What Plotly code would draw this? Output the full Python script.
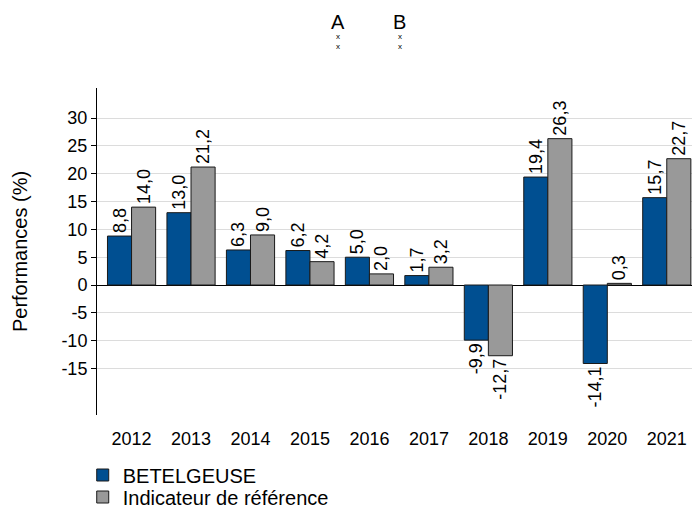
import plotly.graph_objects as go

years = ["2012", "2013", "2014", "2015", "2016", "2017", "2018", "2019", "2020", "2021"]
betelgeuse = [8.8, 13.0, 6.3, 6.2, 5.0, 1.7, -9.9, 19.4, -14.1, 15.7]
reference = [14.0, 21.2, 9.0, 4.2, 2.0, 3.2, -12.7, 26.3, 0.3, 22.7]
ytick_vals = [-15, -10, -5, 0, 5, 10, 15, 20, 25, 30]

def fmt(v):
    return f"{v:.1f}".replace(".", ",")

font_family = "Liberation Sans, Arial, sans-serif"

fig = go.Figure()
fig.add_trace(go.Bar(
    x=years, y=betelgeuse, name="BETELGEUSE", legend="legend",
    marker=dict(color="#004f91", line=dict(color="#1a1a1a", width=1)),
    text=[fmt(v) for v in betelgeuse], textposition="outside", textangle=-90,
    textfont=dict(size=18, color="black"), cliponaxis=False, constraintext="none",
))
fig.add_trace(go.Bar(
    x=years, y=reference, name="Indicateur de référence", legend="legend2",
    marker=dict(color="#999999", line=dict(color="#1a1a1a", width=1)),
    text=[fmt(v) for v in reference], textposition="outside", textangle=-90,
    textfont=dict(size=18, color="black"), cliponaxis=False, constraintext="none",
))

legend_common = dict(xanchor="left", yanchor="middle", font=dict(size=20),
                     orientation="v", bgcolor="rgba(0,0,0,0)", itemwidth=30)
fig.update_layout(
    width=700, height=508,
    margin=dict(l=89, r=16, t=80, b=101, autoexpand=False),
    paper_bgcolor="white", plot_bgcolor="white",
    font=dict(family=font_family, color="black"),
    barmode="group", bargap=0.19, bargroupgap=0,
    showlegend=True,
    legend=dict(x=-0.024, y=-0.1835, **legend_common),
    legend2=dict(x=-0.024, y=-0.2508, **legend_common),
)
fig.update_yaxes(
    range=[-23.35, 35.4], tickvals=ytick_vals,
    ticktext=[str(v) for v in ytick_vals],
    showgrid=True, gridcolor="#dcdcdc", gridwidth=1,
    zeroline=True, zerolinecolor="black", zerolinewidth=1,
    showline=True, linecolor="black", linewidth=1,
    ticks="outside", ticklen=5, tickcolor="black",
    tickfont=dict(size=18), automargin=False,
    title=dict(text="Performances (%)", font=dict(size=20), standoff=28),
)
fig.update_xaxes(
    range=[-0.581, 9.424],
    showline=False, showgrid=False, zeroline=False,
    ticks="outside", ticklen=7, tickcolor="rgba(0,0,0,0)",
    tickfont=dict(size=18), automargin=False,
)

for label, xpaper in [("A", 0.405), ("B", 0.5092)]:
    fig.add_annotation(text=label, xref="paper", yref="paper",
                       x=xpaper, y=1.2018, yanchor="middle",
                       showarrow=False, font=dict(size=20, color="black"))
    fig.add_annotation(text="x<br>x", xref="paper", yref="paper",
                       x=xpaper, y=1.1407, yanchor="middle",
                       showarrow=False, font=dict(size=8, color="black"))

fig.write_html("out.html")
